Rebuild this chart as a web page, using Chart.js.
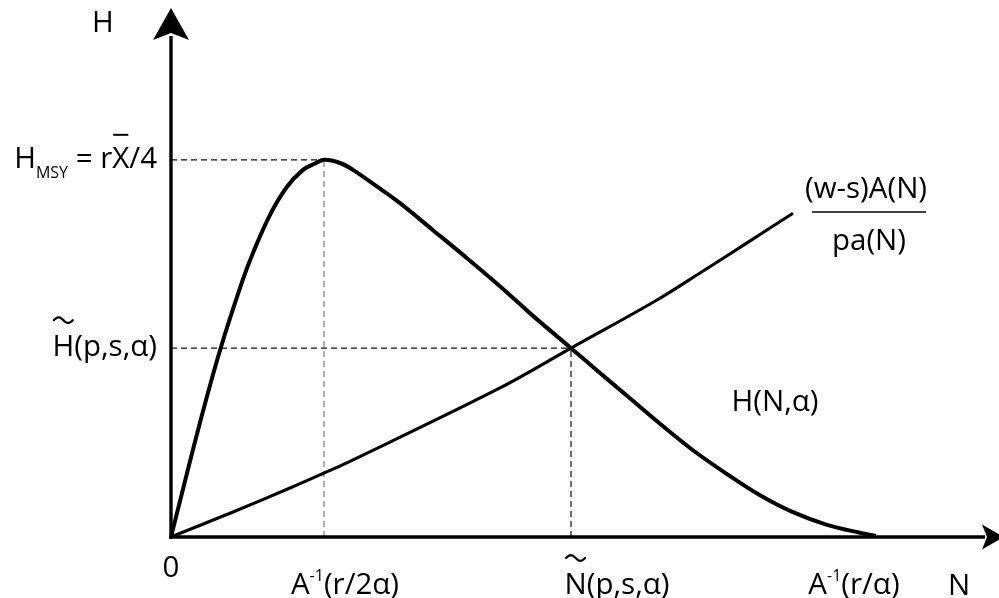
<!DOCTYPE html>
<html>
<head>
<meta charset="utf-8">
<script src="https://cdn.jsdelivr.net/npm/chart.js@4.4.1/dist/chart.umd.min.js"></script>
<style>
html,body{margin:0;padding:0;background:#fff;}
#wrap{width:999px;height:598px;position:relative;}
</style>
</head>
<body>
<div id="wrap"><canvas id="c" width="999" height="598"></canvas></div>
<script>
// ---- data (abstract units, N and H both on 0..100) ----
const harvestN = [0, 3.26, 5.92, 8.57, 9.90, 11.96, 14.01, 15.94, 17.27, 18.48, 20.41, 21.98, 24.64, 27.66, 31.64, 35.75, 39.73, 43.72, 48.31, 51.81, 55.07, 59.06, 63.04, 67.15, 71.14, 75.12, 79.23, 83.21, 85.14];
const harvestH = [0, 20.2, 35.3, 48.2, 53.7, 60.9, 66.2, 69.4, 70.5, 71.3, 70.7, 69.4, 66.5, 63.1, 58.0, 52.7, 47.4, 41.8, 35.7, 31.0, 26.7, 21.4, 16.4, 11.9, 7.9, 4.7, 2.3, 0.8, 0.2];
const costN = [0, 7.49, 14.37, 18.36, 21.62, 39.73, 48.31, 58.70, 63.89, 69.57, 75.12];
const costH = [0, 4.73, 9.26, 12.0, 14.3, 28.17, 35.7, 44.8, 49.9, 55.6, 61.2];
const xTickValues = [0, 18.48, 48.31, 85.14];
const xTickLabels = ['0', 'A⁻¹(r/2α)', 'N\u0303(p,s,α)', 'A⁻¹(r/α)'];
const yTickValues = [71.3, 35.7];
const yTickLabels = ['H_{MSY} = rX\u0304/4', 'H\u0303(p,s,α)'];
const xAxisTitle = 'N';
const yAxisTitle = 'H';
const harvestLabel = 'H(N,α)';
const costLabelNum = '(w-s)A(N)';
const costLabelDen = 'pa(N)';

const FONT = '"Open Sans", "Noto Sans", sans-serif';
const S = 29.5;

function pts(xs, ys){ return xs.map((x,i)=>({x:x, y:ys[i]})); }

function parseRich(str){
  const segs=[]; let i=0;
  while(i<str.length){
    const c=str[i];
    if(c==='_' && str[i+1]==='{'){ const j=str.indexOf('}',i); segs.push({t:str.slice(i+2,j),kind:'sub'}); i=j+1; continue; }
    if(c==='⁻'||c==='¹'){ const t=c==='⁻'?'-':'1'; const l=segs[segs.length-1]; if(l&&l.kind==='sup') l.t+=t; else segs.push({t:t,kind:'sup'}); i++; continue; }
    const nx=str[i+1];
    if(nx==='\u0303'||nx==='\u0304'){ segs.push({t:c,kind:'norm',mark:nx==='\u0303'?'tilde':'bar'}); i+=2; continue; }
    const l=segs[segs.length-1];
    if(l&&l.kind==='norm'&&!l.mark) l.t+=c; else segs.push({t:c,kind:'norm'});
    i++;
  }
  return segs;
}
function segFont(s){ return (s.kind==='sub'?16:(s.kind==='sup'?16:S))+'px '+FONT; }
function richWidth(ctx, segs){ let w=0; segs.forEach(s=>{ctx.font=segFont(s); w+=ctx.measureText(s.t).width;}); return w; }
function drawRich(ctx, str, x, y, align){
  const segs=parseRich(str);
  const w=richWidth(ctx, segs);
  let cx = align==='center' ? x-w/2 : (align==='right' ? x-w : x);
  ctx.textAlign='left'; ctx.textBaseline='alphabetic'; ctx.fillStyle='#000';
  segs.forEach(s=>{
    ctx.font=segFont(s);
    const dy = s.kind==='sub'?10:(s.kind==='sup'?-13:0);
    ctx.fillText(s.t, cx, y+dy);
    const sw=ctx.measureText(s.t).width;
    if(s.mark==='tilde'){
      const mx=cx+sw/2, my=y-36, hw=9.5, a=2.8;
      ctx.save(); ctx.strokeStyle='#000'; ctx.lineWidth=2.2; ctx.lineCap='round'; ctx.beginPath();
      for(let k=0;k<=24;k++){ const t=k/24; const px=mx-hw+2*hw*t; const py=my - a*Math.sin(t*2*Math.PI); if(k===0) ctx.moveTo(px,py); else ctx.lineTo(px,py); }
      ctx.stroke(); ctx.restore();
    }
    if(s.mark==='bar'){
      ctx.save(); ctx.strokeStyle='#000'; ctx.lineWidth=2; ctx.beginPath();
      ctx.moveTo(cx+1, y-33); ctx.lineTo(cx+sw-1, y-33); ctx.stroke(); ctx.restore();
    }
    cx+=sw;
  });
}

const decor = {
  id:'decor',
  beforeDraw(chart){
    const ctx=chart.ctx; ctx.save(); ctx.fillStyle='#fff'; ctx.fillRect(0,0,chart.width,chart.height); ctx.restore();
  },
  afterDatasetsDraw(chart){
    const ctx=chart.ctx, xs=chart.scales.x, ys=chart.scales.y;
    const ox=xs.getPixelForValue(0), oy=ys.getPixelForValue(0);
    ctx.save();
    ctx.strokeStyle='#000'; ctx.fillStyle='#000'; ctx.lineWidth=3.4; ctx.lineCap='butt';
    // y axis
    ctx.beginPath(); ctx.moveTo(ox, oy+1.7); ctx.lineTo(ox, 36); ctx.stroke();
    ctx.beginPath(); ctx.moveTo(ox, 8); ctx.lineTo(ox+18, 40); ctx.lineTo(ox, 33); ctx.lineTo(ox-18, 40); ctx.closePath(); ctx.fill();
    // x axis
    ctx.beginPath(); ctx.moveTo(ox-1.7, oy); ctx.lineTo(985, oy); ctx.stroke();
    ctx.beginPath(); ctx.moveTo(1004, oy); ctx.lineTo(982, oy-12.5); ctx.lineTo(987, oy); ctx.lineTo(982, oy+12.5); ctx.closePath(); ctx.fill();
    ctx.restore();

    ctx.save();
    // axis titles
    drawRich(ctx, yAxisTitle, 103, 32, 'center');
    drawRich(ctx, xAxisTitle, 959, 595, 'center');
    // x tick labels
    const xOff=[0, 21, 46, -22];
    const xBase=[577, 594, 594, 594];
    xTickValues.forEach((v,i)=>{ drawRich(ctx, xTickLabels[i], xs.getPixelForValue(v)+xOff[i], xBase[i], 'center'); });
    // y tick labels
    yTickValues.forEach((v,i)=>{ drawRich(ctx, yTickLabels[i], 157, ys.getPixelForValue(v)+8, 'right'); });
    // curve labels
    drawRich(ctx, harvestLabel, 775, 411, 'center');
    drawRich(ctx, costLabelNum, 866, 198, 'center');
    ctx.strokeStyle='#000'; ctx.lineWidth=1.6;
    ctx.beginPath(); ctx.moveTo(812, 212); ctx.lineTo(926, 212); ctx.stroke();
    drawRich(ctx, costLabelDen, 869, 250, 'center');
    ctx.restore();
  }
};

const peakN = xTickValues[1], peakH = yTickValues[0];
const eqN = xTickValues[2], eqH = yTickValues[1];

new Chart(document.getElementById('c'), {
  type:'line',
  data:{
    datasets:[
      {data:pts(harvestN, harvestH), borderColor:'#000', borderWidth:4, pointRadius:0, tension:0.35, fill:false},
      {data:pts(costN, costH), borderColor:'#000', borderWidth:3.1, pointRadius:0, tension:0.35, fill:false},
      {data:[{x:0,y:peakH},{x:peakN,y:peakH}], borderColor:'#111', borderWidth:1.3, borderDash:[6,4], pointRadius:0},
      {data:[{x:peakN,y:0},{x:peakN,y:peakH}], borderColor:'#8a8a8a', borderWidth:1.3, borderDash:[6,4], pointRadius:0},
      {data:[{x:0,y:eqH},{x:eqN,y:eqH}], borderColor:'#111', borderWidth:1.3, borderDash:[6,4], pointRadius:0},
      {data:[{x:eqN,y:0},{x:eqN,y:eqH}], borderColor:'#222', borderWidth:1.3, borderDash:[6,4], pointRadius:0}
    ]
  },
  options:{
    responsive:false, animation:false, devicePixelRatio:1,
    layout:{padding:{left:171, right:0, top:8, bottom:61}},
    plugins:{legend:{display:false}, tooltip:{enabled:false}},
    scales:{
      x:{type:'linear', min:0, max:100, display:false},
      y:{type:'linear', min:0, max:100, display:false}
    },
    elements:{line:{borderCapStyle:'butt', borderJoinStyle:'round'}}
  },
  plugins:[decor]
});
</script>
</body>
</html>
